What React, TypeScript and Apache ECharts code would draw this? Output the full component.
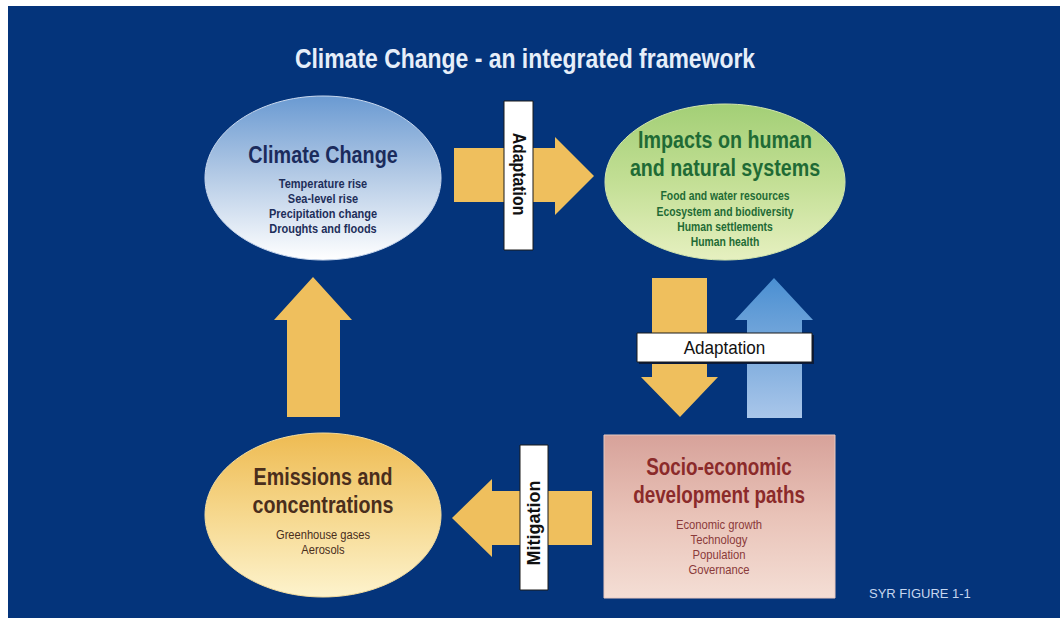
import React, { useEffect, useRef } from "react";
import * as echarts from "echarts";

const TITLE = "Climate Change - an integrated framework";
const FOOTNOTE = "SYR FIGURE 1-1";

const climateTitle = ["Climate Change"];
const climateItems = ["Temperature rise", "Sea-level rise", "Precipitation change", "Droughts and floods"];

const impactsTitle = ["Impacts on human", "and natural systems"];
const impactsItems = ["Food and water resources", "Ecosystem and biodiversity", "Human settlements", "Human health"];

const socioTitle = ["Socio-economic", "development paths"];
const socioItems = ["Economic growth", "Technology", "Population", "Governance"];

const emissionsTitle = ["Emissions and", "concentrations"];
const emissionsItems = ["Greenhouse gases", "Aerosols"];

const arrowLabels = ["Adaptation", "Adaptation", "Mitigation"];

const SANS = "'Liberation Sans', Arial, sans-serif";
const BG = "#04347b";
const YELLOW = "#efbf5d";

function lin(stops: [number, string][]) {
  return {
    type: "linear",
    x: 0,
    y: 0,
    x2: 0,
    y2: 1,
    colorStops: stops.map(([offset, color]) => ({ offset, color })),
  };
}

function textLines(
  lines: string[],
  cx: number,
  startY: number,
  step: number,
  size: number,
  color: string,
  sx: number,
  weight = "bold"
) {
  return lines.map((t, i) => ({
    type: "text",
    x: cx,
    y: startY + i * step,
    scaleX: sx,
    style: {
      text: t,
      fill: color,
      font: `${weight} ${size}px ${SANS}`,
      align: "center",
      verticalAlign: "middle",
    },
  }));
}

export default function App() {
  const ref = useRef<HTMLDivElement>(null);
  useEffect(() => {
    if (!ref.current) return;
    const chart = echarts.init(ref.current, undefined, { renderer: "svg" });

    const elements: any[] = [
      { type: "rect", shape: { x: 8, y: 6, width: 1052, height: 612 }, style: { fill: BG } },
      {
        type: "text",
        x: 525,
        y: 58,
        scaleX: 0.85,
        style: { text: TITLE, fill: "#e6eef9", font: `bold 27px ${SANS}`, align: "center", verticalAlign: "middle" },
      },
      // Climate change ellipse
      {
        type: "ellipse",
        shape: { cx: 323, cy: 178, rx: 118, ry: 82 },
        style: { fill: lin([[0, "#6a9ad2"], [0.45, "#afc7e4"], [1, "#ffffff"]]), stroke: "#c9d8ee", lineWidth: 1 },
      },
      ...textLines(climateTitle, 323, 155, 28, 23, "#1b2b5c", 0.86),
      ...textLines(climateItems, 323, 183, 15, 12.5, "#1e2e5a", 0.88),
      // Impacts ellipse
      {
        type: "ellipse",
        shape: { cx: 725, cy: 182, rx: 120, ry: 78 },
        style: { fill: lin([[0, "#a3cf76"], [0.5, "#c3df95"], [1, "#e6f0c0"]]), stroke: "#d3e6ad", lineWidth: 1 },
      },
      ...textLines(impactsTitle, 725, 140, 28, 24, "#1f6b35", 0.82),
      ...textLines(impactsItems, 725, 196, 15.3, 12.5, "#1f6b35", 0.83),
      // Socio-economic rect
      {
        type: "rect",
        shape: { x: 604, y: 435, width: 231, height: 163 },
        style: { fill: lin([[0, "#d7a29a"], [0.5, "#e9c3b8"], [1, "#f4ded5"]]), stroke: "#e8c8c0", lineWidth: 1 },
      },
      ...textLines(socioTitle, 719, 467, 28, 23, "#8b2a2a", 0.82),
      ...textLines(socioItems, 719, 525, 15, 12.5, "#8a3a3a", 0.9, "normal"),
      // Emissions ellipse
      {
        type: "ellipse",
        shape: { cx: 323, cy: 515, rx: 118, ry: 82 },
        style: { fill: lin([[0, "#eebb52"], [0.5, "#f6d88e"], [1, "#fdf3cd"]]), stroke: "#f3dc9e", lineWidth: 1 },
      },
      ...textLines(emissionsTitle, 323, 477, 28, 24, "#4a2e1c", 0.82),
      ...textLines(emissionsItems, 323, 535, 15, 12.5, "#4a2e1c", 0.89, "normal"),
      // Right arrow (top)
      {
        type: "polygon",
        shape: { points: [[454, 148], [555, 148], [555, 137], [594, 176], [555, 215], [555, 202], [454, 202]] },
        style: { fill: YELLOW },
      },
      { type: "rect", shape: { x: 504, y: 101, width: 29, height: 149 }, style: { fill: "#ffffff", stroke: "#1a1a1a", lineWidth: 1 } },
      {
        type: "text",
        x: 518.5,
        y: 174,
        rotation: -Math.PI / 2,
        scaleX: 0.88,
        style: { text: arrowLabels[0], fill: "#111111", font: `bold 18px ${SANS}`, align: "center", verticalAlign: "middle" },
      },
      // Down arrow (yellow)
      {
        type: "polygon",
        shape: { points: [[652, 278], [707, 278], [707, 377], [718, 377], [680, 417], [641, 377], [652, 377]] },
        style: { fill: YELLOW },
      },
      // Up arrow (blue)
      {
        type: "polygon",
        shape: { points: [[747, 418], [747, 320], [735, 320], [774, 278], [813, 320], [802, 320], [802, 418]] },
        style: { fill: lin([[0, "#4a8fd2"], [0.5, "#7aaadc"], [1, "#a9c6ea"]]) },
      },
      { type: "rect", shape: { x: 639, y: 335, width: 175, height: 29 }, style: { fill: "#0a1a3a" } },
      { type: "rect", shape: { x: 637, y: 333, width: 175, height: 29 }, style: { fill: "#ffffff", stroke: "#1a1a1a", lineWidth: 1 } },
      {
        type: "text",
        x: 724.5,
        y: 348,
        scaleX: 0.95,
        style: { text: arrowLabels[1], fill: "#111111", font: `18px ${SANS}`, align: "center", verticalAlign: "middle" },
      },
      // Left arrow (bottom)
      {
        type: "polygon",
        shape: { points: [[592, 491], [492, 491], [492, 479], [452, 518], [492, 557], [492, 545], [592, 545]] },
        style: { fill: YELLOW },
      },
      { type: "rect", shape: { x: 520, y: 445, width: 28, height: 145 }, style: { fill: "#ffffff", stroke: "#1a1a1a", lineWidth: 1 } },
      {
        type: "text",
        x: 534,
        y: 523,
        rotation: Math.PI / 2,
        style: { text: arrowLabels[2], fill: "#111111", font: `bold 18px ${SANS}`, align: "center", verticalAlign: "middle" },
      },
      // Up arrow left (yellow)
      {
        type: "polygon",
        shape: { points: [[287, 417], [287, 320], [274, 320], [313, 277], [352, 320], [340, 320], [340, 417]] },
        style: { fill: YELLOW },
      },
      {
        type: "text",
        x: 869,
        y: 593,
        style: { text: FOOTNOTE, fill: "#c6d6ef", font: `13px ${SANS}`, align: "left", verticalAlign: "middle" },
      },
    ];

    chart.setOption({ animation: false, graphic: { elements } });
    return () => chart.dispose();
  }, []);
  return <div ref={ref} style={{ position: "fixed", left: 0, top: 0, width: 1060, height: 618, background: "#ffffff" }} />;
}
